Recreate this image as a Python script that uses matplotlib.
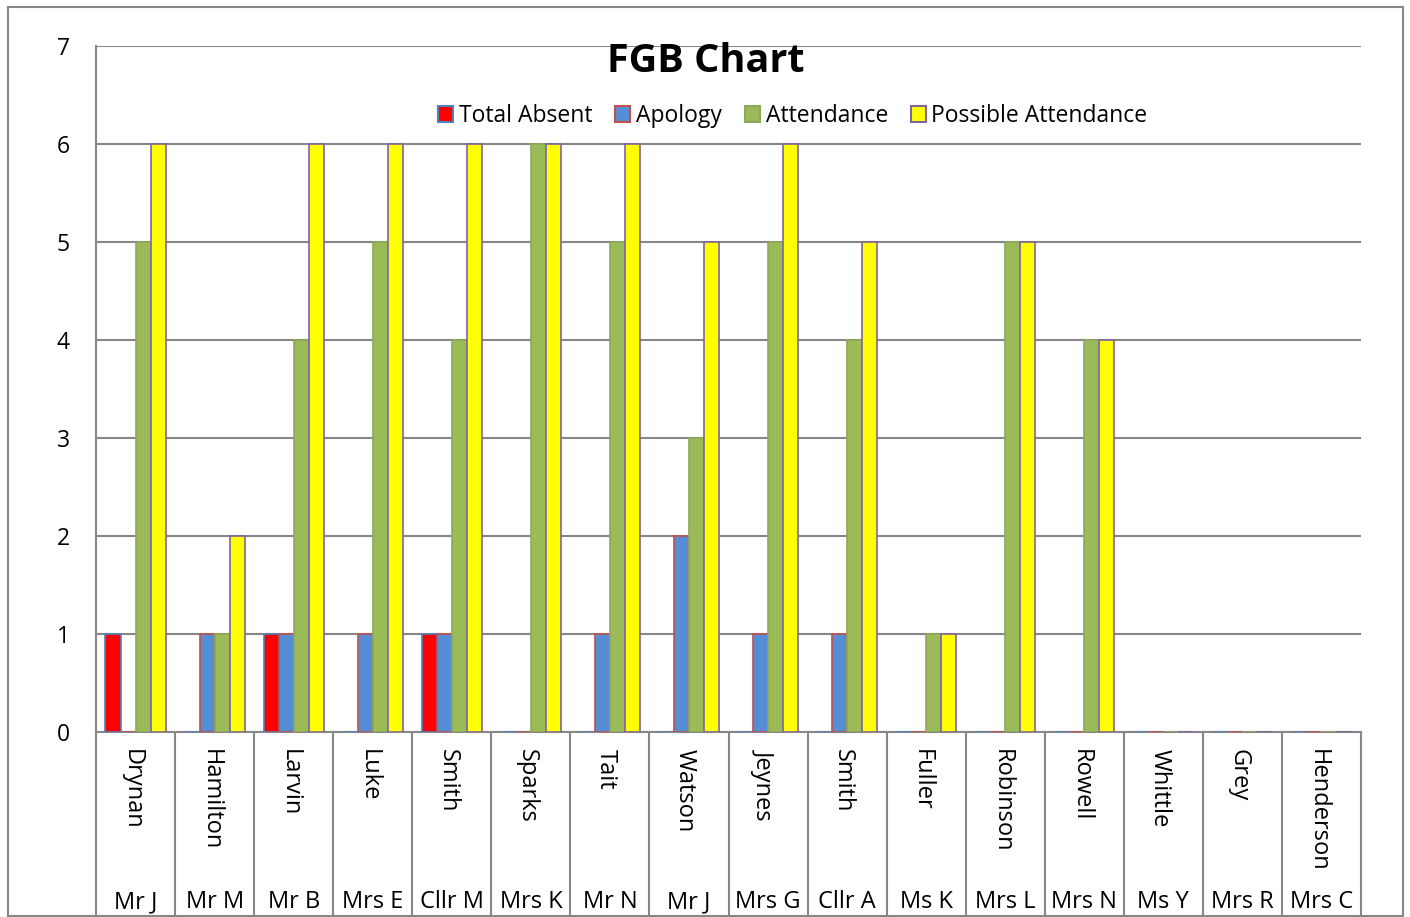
import numpy as np
import matplotlib
matplotlib.use("Agg")
import matplotlib.pyplot as plt
from matplotlib.patches import Rectangle, Patch
from matplotlib.transforms import blended_transform_factory

plt.rcParams['font.family'] = ['Open Sans', 'DejaVu Sans']

surnames = ['Drynan', 'Hamilton', 'Larvin', 'Luke', 'Smith', 'Sparks', 'Tait', 'Watson',
            'Jeynes', 'Smith', 'Fuller', 'Robinson', 'Rowell', 'Whittle', 'Grey', 'Henderson']
titles = ['Mr J', 'Mr M', 'Mr B', 'Mrs E', 'Cllr M', 'Mrs K', 'Mr N', 'Mr J',
          'Mrs G', 'Cllr A', 'Ms K', 'Mrs L', 'Mrs N', 'Ms Y', 'Mrs R', 'Mrs C']

total_absent = [1, 0, 1, 0, 1, 0, 0, 0, 0, 0, 0, 0, 0, 0, 0, 0]
apology = [0, 1, 1, 1, 1, 0, 1, 2, 1, 1, 0, 0, 0, 0, 0, 0]
attendance = [5, 1, 4, 5, 4, 6, 5, 3, 5, 4, 1, 5, 4, 0, 0, 0]
possible = [6, 2, 6, 6, 6, 6, 6, 5, 6, 5, 1, 5, 4, 0, 0, 0]

series_names = ['Total Absent', 'Apology', 'Attendance', 'Possible Attendance']
fills = ['#FF0000', '#558ED5', '#9BBB59', '#FFFF00']
edges = ['#4F81BD', '#C0504D', '#8DA85A', '#8064A2']
grid_col = '#878787'

W, H = 1410, 917
fig = plt.figure(figsize=(W / 100, H / 100), dpi=100)
ax = fig.add_axes([96 / W, 1 - 732 / H, (1361 - 96) / W, (732 - 46) / H])

x = np.arange(len(surnames))
bw = 0.19
for k, vals in enumerate([total_absent, apology, attendance, possible]):
    ax.bar(x + (k - 1.5) * bw, vals, bw, color=fills[k], edgecolor=edges[k],
           linewidth=1.2, zorder=3)

ax.set_xlim(-0.5, len(surnames) - 0.5)
ax.set_ylim(0, 7)
ax.set_yticks(range(8))
ax.tick_params(axis='y', length=0, pad=19, labelsize=16.5)
ax.set_xticks([])
ax.grid(axis='y', color=grid_col, linewidth=1.5, zorder=1)
for s in ['right', 'top', 'bottom']:
    ax.spines[s].set_visible(False)
ax.spines['left'].set_color(grid_col)
ax.spines['left'].set_linewidth(1.5)

# two-level category axis
tr = blended_transform_factory(ax.transData, ax.transAxes)
y_bot = (1 - 916 / H - (1 - 732 / H)) / ((732 - 46) / H)
for b in np.arange(len(surnames) + 1) - 0.5:
    ax.plot([b, b], [0, y_bot], transform=tr, color=grid_col, lw=1.5, clip_on=False)
ax.plot([-0.5, len(surnames) - 0.5], [0, 0], transform=tr, color=grid_col,
        lw=1.5, clip_on=False)
y_name = -(749 - 732) / (732 - 46)
y_title = -(908 - 732) / (732 - 46)
for i in range(len(surnames)):
    ax.text(i - 0.05, y_name, surnames[i], transform=tr, rotation=-90, ha='center',
            va='top', fontsize=17)
    ax.text(i, y_title, titles[i], transform=tr, ha='center', va='baseline',
            fontsize=17)

# outer chart border
fig.patches.append(Rectangle((8 / W, 1 - 916 / H), (1403 - 8) / W, (916 - 7) / H,
                             transform=fig.transFigure, fill=False,
                             edgecolor=grid_col, linewidth=1.5))

fig.text(706 / W, 1 - 61 / H, 'FGB Chart', ha='center', va='center',
         fontsize=28.5, fontweight='bold')

handles = [Patch(facecolor=fills[k], edgecolor=edges[k], linewidth=1.5)
           for k in range(4)]
fig.legend(handles, series_names, loc='center', bbox_to_anchor=(793 / W, 1 - 116 / H),
           ncol=4, frameon=False, fontsize=16.5, handlelength=0.65, handleheight=0.65,
           handletextpad=0.25, columnspacing=1.0)

fig.savefig('out.png', dpi=100)
